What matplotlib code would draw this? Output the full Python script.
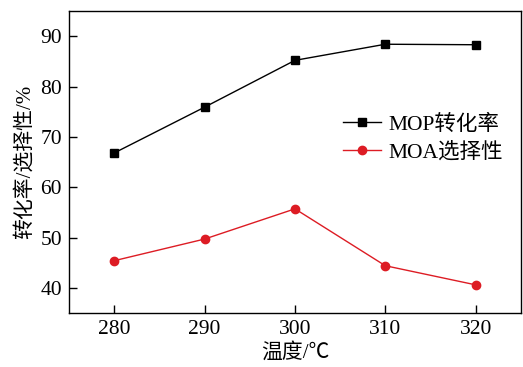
import matplotlib
matplotlib.use("Agg")
import matplotlib.pyplot as plt

temps = [280, 290, 300, 310, 320]
mop_conv = [66.8, 75.9, 85.2, 88.4, 88.3]
moa_sel = [45.4, 49.7, 55.7, 44.4, 40.6]
xticks = [280, 290, 300, 310, 320]
yticks = [40, 50, 60, 70, 80, 90]

plt.rcParams['font.family'] = ['Liberation Serif', 'Noto Sans CJK SC']

fig = plt.figure(figsize=(5.23, 3.67), dpi=100)
ax = fig.add_axes([0.132, 0.147, 0.864, 0.823])

ax.plot(temps, mop_conv, color='black', marker='s', markersize=5.5, lw=1.0, label='MOP转化率')
ax.plot(temps, moa_sel, color='#dd1c24', marker='o', markersize=6, lw=1.0, label='MOA选择性')

ax.set_xlim(275, 325)
ax.set_ylim(35, 95)
ax.set_xticks(xticks)
ax.set_yticks(yticks)
ax.tick_params(direction='in', length=6, width=1, labelsize=15.5, pad=5)
for s in ax.spines.values():
    s.set_linewidth(1.0)

ax.set_xlabel('温度/℃', fontsize=15, labelpad=3)
ax.set_ylabel('转化率/选择性/%', fontsize=15, labelpad=4)

ax.legend(loc='center left', bbox_to_anchor=(0.606, 0.577), frameon=False, fontsize=15.5,
          handlelength=1.75, handletextpad=0.37, labelspacing=0.36, borderaxespad=0,
          borderpad=0)

fig.savefig('out.png', dpi=100)
